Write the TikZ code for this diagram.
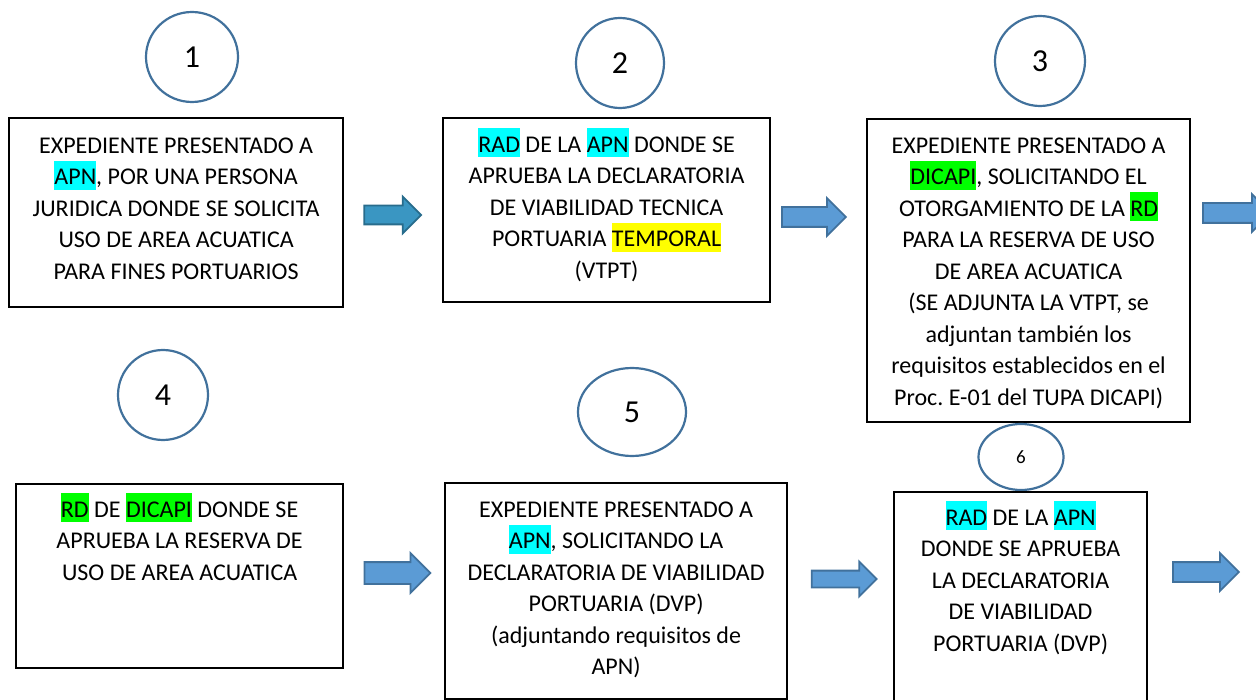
\documentclass[tikz,border=0pt]{standalone}
\usepackage{fontspec}
\setmainfont{Carlito}
\usetikzlibrary{shapes.geometric,shapes.arrows}

\definecolor{ringblue}{RGB}{65,113,156}
\definecolor{arrowfill}{RGB}{91,155,213}
\definecolor{arrowline}{RGB}{65,113,156}
\definecolor{tealfill}{RGB}{58,150,194}
\definecolor{tealline}{RGB}{40,108,140}
\definecolor{hlcyan}{RGB}{0,255,255}
\definecolor{hlgreen}{RGB}{0,255,0}
\definecolor{hlyellow}{RGB}{255,255,0}

% marcador de texto (highlight)
\newcommand{\hl}[2]{{\setlength{\fboxsep}{0pt}\colorbox{#1}{\rule[-5pt]{0pt}{29pt}#2}}}

\tikzset{
  docbox/.style={draw=black, line width=2.2pt, anchor=north west, inner sep=0pt},
  boxtext/.style={anchor=north, align=center, inner sep=0pt, font=\fontsize{24}{31.5}\selectfont},
  numring/.style={ellipse, draw=ringblue, line width=2.2pt, inner sep=0pt, font=\fontsize{32}{36}\selectfont},
  flowarrow/.style={single arrow, fill=arrowfill, draw=arrowline, line width=1.8pt,
    inner xsep=0pt, inner ysep=9pt, single arrow head extend=9pt},
}

\begin{document}
\frenchspacing
\begin{tikzpicture}[x=1pt, y=-1pt]
  \useasboundingbox (0,0) rectangle (1256,700);
  \clip (0,0) rectangle (1256,700);

  % fila superior
  \node[numring, minimum width=92pt, minimum height=90pt] (c1) at (192,57) {1};
  \node[numring, minimum width=88pt, minimum height=90pt] (c2) at (620,63) {2};
  \node[numring, minimum width=90pt, minimum height=90pt] (c3) at (1040,61) {3};

  \node[docbox, minimum width=334pt, minimum height=189pt] (b1) at (8,117) {};
  \node[docbox, minimum width=327pt, minimum height=184pt] (b2) at (442,117) {};
  \node[docbox, minimum width=323pt, minimum height=303pt] (b3) at (866,118) {};

  \node[boxtext] (t1) at ([yshift=-12pt]b1.north) {\rule{0pt}{24pt}EXPEDIENTE PRESENTADO A\\
    \hl{hlcyan}{APN}, POR UNA PERSONA\\
    JURIDICA DONDE SE SOLICITA\\
    USO DE AREA ACUATICA\\
    PARA FINES PORTUARIOS};
  \node[boxtext] (t2) at ([yshift=-11pt]b2.north) {\hl{hlcyan}{RAD} DE LA \hl{hlcyan}{APN} DONDE SE\\
    APRUEBA LA DECLARATORIA\\
    DE VIABILIDAD TECNICA\\
    PORTUARIA \hl{hlyellow}{TEMPORAL}\\
    (VTPT)};
  \node[boxtext] (t3) at ([yshift=-11pt]b3.north) {\rule{0pt}{24pt}EXPEDIENTE PRESENTADO A\\
    \hl{hlgreen}{DICAPI}, SOLICITANDO EL\\
    OTORGAMIENTO DE LA \hl{hlgreen}{RD}\\
    PARA LA RESERVA DE USO\\
    DE AREA ACUATICA\\
    (SE ADJUNTA LA VTPT, se\\
    adjuntan también los\\
    requisitos establecidos en el\\
    Proc. E-01 del TUPA DICAPI)};

  \node[flowarrow, minimum height=57pt, inner ysep=8.5pt, fill=tealfill, draw=tealline] (f1) at (388,215) {};
  \node[flowarrow, minimum height=64pt] (f2) at (809,217) {};
  \node[flowarrow, minimum height=68pt] (f3) at (1232,213) {};

  % fila inferior
  \node[numring, minimum width=90pt, minimum height=90pt] (c4) at (163,395) {4};
  \node[numring, minimum width=108pt, minimum height=88pt] (c5) at (632,412) {5};
  \node[numring, minimum width=85pt, minimum height=66pt, font=\fontsize{19}{22}\selectfont] (c6) at (1021,457) {6};

  \node[docbox, minimum width=327pt, minimum height=184pt] (b4) at (15,483) {};
  \node[docbox, minimum width=342pt, minimum height=216pt] (b5) at (444,482) {};
  \node[docbox, minimum width=253pt, minimum height=230pt] (b6) at (893,491) {};

  \node[boxtext] (t4) at ([yshift=-10pt]b4.north) {\hl{hlgreen}{RD} DE \hl{hlgreen}{DICAPI} DONDE SE\\
    APRUEBA LA RESERVA DE\\
    USO DE AREA ACUATICA};
  \node[boxtext] (t5) at ([yshift=-11pt]b5.north) {\rule{0pt}{24pt}EXPEDIENTE PRESENTADO A\\
    \hl{hlcyan}{APN}, SOLICITANDO LA\\
    DECLARATORIA DE VIABILIDAD\\
    PORTUARIA (DVP)\\
    (adjuntando requisitos de\\
    APN)};
  \node[boxtext] (t6) at ([yshift=-10pt]b6.north) {\hl{hlcyan}{RAD} DE LA \hl{hlcyan}{APN}\\
    DONDE SE APRUEBA\\
    LA DECLARATORIA\\
    DE VIABILIDAD\\
    PORTUARIA (DVP)};

  \node[flowarrow, minimum height=66pt, inner ysep=10pt] (f4) at (392,573) {};
  \node[flowarrow, minimum height=65pt, inner ysep=7.5pt] (f5) at (840,579) {};
  \node[flowarrow, minimum height=66pt] (f6) at (1201,572) {};
\end{tikzpicture}
\end{document}
